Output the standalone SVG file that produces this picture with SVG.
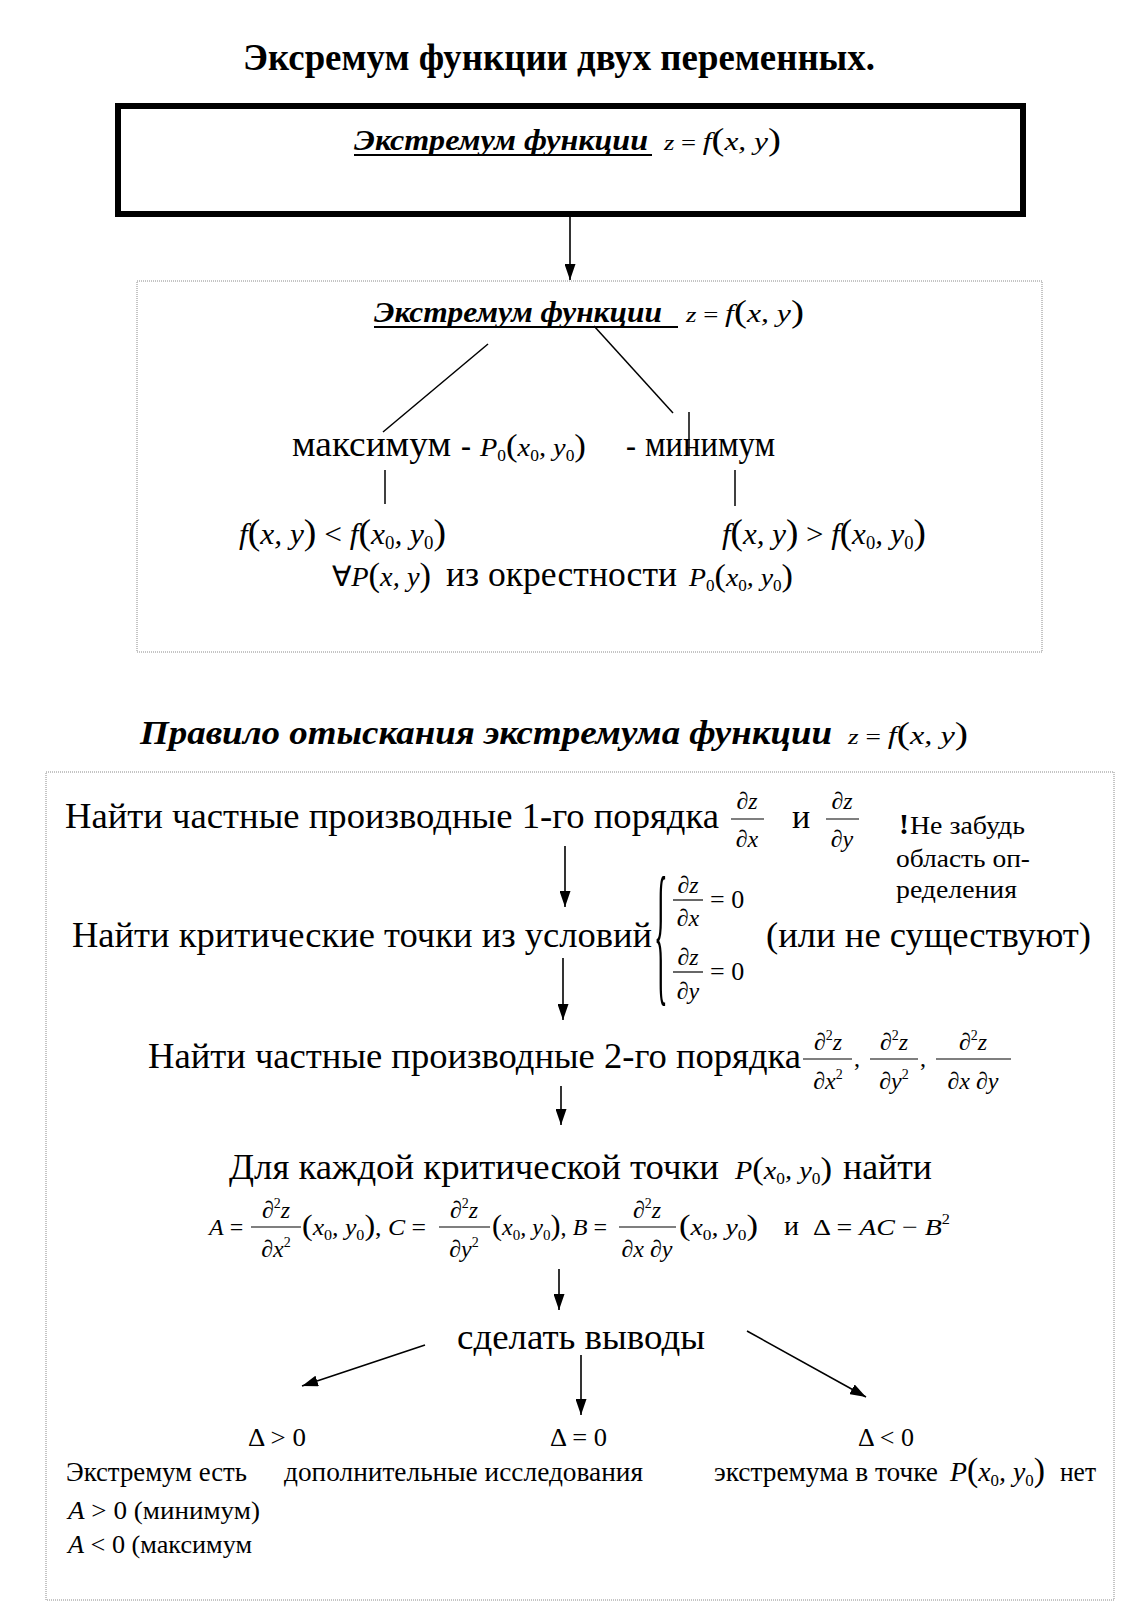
<svg xmlns="http://www.w3.org/2000/svg" width="1146" height="1616" viewBox="0 0 1146 1616">
<style>
.s{font-family:"Liberation Serif","Times New Roman",serif;fill:#000}
.i{font-style:italic}
.b{font-weight:bold}
.u{font-style:normal}
.ln{stroke:#000;stroke-width:1.5;fill:none}
.ar{stroke:#000;stroke-width:1.6;fill:none;marker-end:url(#ah)}
.fb{stroke:#000;stroke-width:1.2}
.dot{fill:none;stroke:#8a8a8a;stroke-width:1;stroke-dasharray:1 1}
</style>
<defs>
<marker id="ah" markerUnits="userSpaceOnUse" markerWidth="16" markerHeight="11" refX="16" refY="5.5" orient="auto"><path d="M0,0 L16,5.5 L0,11 z" fill="#000"/></marker>
</defs>
<rect width="1146" height="1616" fill="#fff"/>

<g id="title"><text class="s b" x="243" y="70" font-size="37" textLength="632" lengthAdjust="spacingAndGlyphs">Эксремум функции двух переменных.</text></g>

<g id="box-top">
<rect x="118" y="106" width="905" height="108" fill="none" stroke="#000" stroke-width="6"/>
<text class="s b i" x="354" y="150" font-size="30" textLength="294" lengthAdjust="spacingAndGlyphs">Экстремум функции</text>
<line x1="354" y1="155" x2="652" y2="155" stroke="#000" stroke-width="2"/>
<text class="s i" x="664" y="150" font-size="26" textLength="117" lengthAdjust="spacingAndGlyphs"><tspan font-size="22">z</tspan><tspan class="u" font-size="22"> = </tspan>f<tspan class="u" font-size="32">(</tspan>x, y<tspan class="u" font-size="32">)</tspan></text>
</g>

<g id="box-def">
<rect class="dot" x="137" y="281" width="905" height="371"/>
<text class="s b i" x="374" y="322" font-size="30" textLength="288" lengthAdjust="spacingAndGlyphs">Экстремум функции</text>
<line x1="374" y1="327" x2="678" y2="327" stroke="#000" stroke-width="2"/>
<text class="s i" x="686" y="322" font-size="26" textLength="118" lengthAdjust="spacingAndGlyphs"><tspan font-size="22">z</tspan><tspan class="u" font-size="22"> = </tspan>f<tspan class="u" font-size="32">(</tspan>x, y<tspan class="u" font-size="32">)</tspan></text>
</g>

<g id="max-min">
<text class="s" x="292" y="456" font-size="36" textLength="159" lengthAdjust="spacingAndGlyphs">максимум</text>
<text class="s b" x="461" y="456" font-size="30">-</text>
<text class="s i" x="480" y="456" font-size="26" textLength="106" lengthAdjust="spacingAndGlyphs">P<tspan class="u" font-size="16" dy="5">0</tspan><tspan class="u" font-size="32" dy="-5">(</tspan>x<tspan class="u" font-size="16" dy="5">0</tspan><tspan dy="-5">, </tspan>y<tspan class="u" font-size="16" dy="5">0</tspan><tspan class="u" font-size="32" dy="-5">)</tspan></text>
<text class="s b" x="626" y="456" font-size="30">-</text>
<text class="s" x="645" y="456" font-size="36" textLength="130" lengthAdjust="spacingAndGlyphs">минимум</text>
</g>

<g id="cond-max"><text class="s i" x="239" y="544" font-size="30" textLength="207" lengthAdjust="spacingAndGlyphs">f<tspan class="u" font-size="36">(</tspan>x, y<tspan class="u" font-size="36">)</tspan><tspan class="u"> &lt; </tspan>f<tspan class="u" font-size="36">(</tspan>x<tspan class="u" font-size="18" dy="5">0</tspan><tspan dy="-5">, </tspan>y<tspan class="u" font-size="18" dy="5">0</tspan><tspan class="u" font-size="36" dy="-5">)</tspan></text></g>

<g id="cond-min"><text class="s i" x="722" y="544" font-size="30" textLength="204" lengthAdjust="spacingAndGlyphs">f<tspan class="u" font-size="36">(</tspan>x, y<tspan class="u" font-size="36">)</tspan><tspan class="u"> &gt; </tspan>f<tspan class="u" font-size="36">(</tspan>x<tspan class="u" font-size="18" dy="5">0</tspan><tspan dy="-5">, </tspan>y<tspan class="u" font-size="18" dy="5">0</tspan><tspan class="u" font-size="36" dy="-5">)</tspan></text></g>

<g id="neighborhood">
<text class="s i" x="332" y="586" font-size="28" textLength="99" lengthAdjust="spacingAndGlyphs"><tspan class="u">∀</tspan>P<tspan class="u" font-size="34">(</tspan>x, y<tspan class="u" font-size="34">)</tspan></text>
<text class="s" x="446" y="586" font-size="36" textLength="231" lengthAdjust="spacingAndGlyphs">из окрестности</text>
<text class="s i" x="689" y="586" font-size="26" textLength="104" lengthAdjust="spacingAndGlyphs">P<tspan class="u" font-size="16" dy="5">0</tspan><tspan class="u" font-size="32" dy="-5">(</tspan>x<tspan class="u" font-size="16" dy="5">0</tspan><tspan dy="-5">, </tspan>y<tspan class="u" font-size="16" dy="5">0</tspan><tspan class="u" font-size="32" dy="-5">)</tspan></text>
</g>

<g id="heading-rule">
<text class="s b i" x="140" y="744" font-size="34" textLength="692" lengthAdjust="spacingAndGlyphs">Правило отыскания экстремума функции</text>
<text class="s i" x="848" y="744" font-size="26" textLength="120" lengthAdjust="spacingAndGlyphs"><tspan font-size="22">z</tspan><tspan class="u" font-size="22"> = </tspan>f<tspan class="u" font-size="32">(</tspan>x, y<tspan class="u" font-size="32">)</tspan></text>
</g>

<g id="box-rule"><rect class="dot" x="46" y="772" width="1068" height="828"/></g>

<g id="step1">
<text class="s" x="65" y="828" font-size="36" textLength="654" lengthAdjust="spacingAndGlyphs">Найти частные производные 1-го порядка</text>
<text class="s i" x="747" y="809" font-size="24" text-anchor="middle">∂z</text>
<line class="fb" x1="731" y1="819" x2="764" y2="819"/>
<text class="s i" x="747" y="847" font-size="24" text-anchor="middle">∂x</text>
<text class="s" x="792" y="828" font-size="34">и</text>
<text class="s i" x="842" y="809" font-size="24" text-anchor="middle">∂z</text>
<line class="fb" x1="826" y1="819" x2="859" y2="819"/>
<text class="s i" x="842" y="847" font-size="24" text-anchor="middle">∂y</text>
</g>

<g id="note">
<text class="s b" x="899" y="834" font-size="30">!</text>
<text class="s" x="910" y="834" font-size="25" textLength="115" lengthAdjust="spacingAndGlyphs">Не забудь</text>
<text class="s" x="896" y="867" font-size="25" textLength="134" lengthAdjust="spacingAndGlyphs">область оп-</text>
<text class="s" x="896" y="898" font-size="25" textLength="121" lengthAdjust="spacingAndGlyphs">ределения</text>
</g>

<g id="step2">
<text class="s" x="72" y="947" font-size="36" textLength="580" lengthAdjust="spacingAndGlyphs">Найти критические точки из условий</text>
<text class="s" font-size="130" transform="translate(654,985) scale(0.22,1.2)">{</text>
<text class="s i" x="688" y="893" font-size="24" text-anchor="middle">∂z</text>
<line class="fb" x1="673" y1="900" x2="703" y2="900"/>
<text class="s i" x="688" y="926" font-size="24" text-anchor="middle">∂x</text>
<text class="s" x="710" y="908" font-size="26">= 0</text>
<text class="s i" x="688" y="965" font-size="24" text-anchor="middle">∂z</text>
<line class="fb" x1="673" y1="972" x2="703" y2="972"/>
<text class="s i" x="688" y="999" font-size="24" text-anchor="middle">∂y</text>
<text class="s" x="710" y="980" font-size="26">= 0</text>
<text class="s" x="766" y="947" font-size="36" textLength="325" lengthAdjust="spacingAndGlyphs">(или не существуют)</text>
</g>

<g id="step3">
<text class="s" x="148" y="1068" font-size="36" textLength="653" lengthAdjust="spacingAndGlyphs">Найти частные производные 2-го порядка</text>
<text class="s i" x="828" y="1050" font-size="24" text-anchor="middle">∂<tspan class="u" font-size="14" dy="-10">2</tspan><tspan dy="10">z</tspan></text>
<line class="fb" x1="803" y1="1059" x2="852" y2="1059"/>
<text class="s i" x="828" y="1089" font-size="24" text-anchor="middle">∂x<tspan class="u" font-size="14" dy="-10">2</tspan></text>
<text class="s" x="854" y="1066" font-size="24">,</text>
<text class="s i" x="894" y="1050" font-size="24" text-anchor="middle">∂<tspan class="u" font-size="14" dy="-10">2</tspan><tspan dy="10">z</tspan></text>
<line class="fb" x1="870" y1="1059" x2="918" y2="1059"/>
<text class="s i" x="894" y="1089" font-size="24" text-anchor="middle">∂y<tspan class="u" font-size="14" dy="-10">2</tspan></text>
<text class="s" x="920" y="1066" font-size="24">,</text>
<text class="s i" x="973" y="1050" font-size="24" text-anchor="middle">∂<tspan class="u" font-size="14" dy="-10">2</tspan><tspan dy="10">z</tspan></text>
<line class="fb" x1="936" y1="1059" x2="1011" y2="1059"/>
<text class="s i" x="973" y="1089" font-size="24" text-anchor="middle">∂x ∂y</text>
</g>

<g id="step4">
<text class="s" x="229" y="1179" font-size="36" textLength="490" lengthAdjust="spacingAndGlyphs">Для каждой критической точки</text>
<text class="s i" x="735" y="1179" font-size="26" textLength="97" lengthAdjust="spacingAndGlyphs">P<tspan class="u" font-size="32">(</tspan>x<tspan class="u" font-size="16" dy="5">0</tspan><tspan dy="-5">, </tspan>y<tspan class="u" font-size="16" dy="5">0</tspan><tspan class="u" font-size="32" dy="-5">)</tspan></text>
<text class="s" x="843" y="1179" font-size="36" textLength="89" lengthAdjust="spacingAndGlyphs">найти</text>
</g>

<g id="step5">
<text class="s i" x="209" y="1235" font-size="24">A<tspan class="u"> =</tspan></text>
<text class="s i" x="276" y="1218" font-size="24" text-anchor="middle">∂<tspan class="u" font-size="14" dy="-10">2</tspan><tspan dy="10">z</tspan></text>
<line class="fb" x1="251" y1="1227" x2="301" y2="1227"/>
<text class="s i" x="276" y="1257" font-size="24" text-anchor="middle">∂x<tspan class="u" font-size="14" dy="-10">2</tspan></text>
<text class="s i" x="302" y="1235" font-size="24" textLength="124" lengthAdjust="spacingAndGlyphs"><tspan class="u" font-size="30">(</tspan>x<tspan class="u" font-size="15" dy="5">0</tspan><tspan dy="-5">, </tspan>y<tspan class="u" font-size="15" dy="5">0</tspan><tspan class="u" font-size="30" dy="-5">)</tspan><tspan class="u">, </tspan>C<tspan class="u"> =</tspan></text>
<text class="s i" x="464" y="1218" font-size="24" text-anchor="middle">∂<tspan class="u" font-size="14" dy="-10">2</tspan><tspan dy="10">z</tspan></text>
<line class="fb" x1="439" y1="1227" x2="490" y2="1227"/>
<text class="s i" x="464" y="1257" font-size="24" text-anchor="middle">∂y<tspan class="u" font-size="14" dy="-10">2</tspan></text>
<text class="s i" x="492" y="1235" font-size="24" textLength="115" lengthAdjust="spacingAndGlyphs"><tspan class="u" font-size="30">(</tspan>x<tspan class="u" font-size="15" dy="5">0</tspan><tspan dy="-5">, </tspan>y<tspan class="u" font-size="15" dy="5">0</tspan><tspan class="u" font-size="30" dy="-5">)</tspan><tspan class="u">, </tspan>B<tspan class="u"> =</tspan></text>
<text class="s i" x="647" y="1218" font-size="24" text-anchor="middle">∂<tspan class="u" font-size="14" dy="-10">2</tspan><tspan dy="10">z</tspan></text>
<line class="fb" x1="619" y1="1227" x2="676" y2="1227"/>
<text class="s i" x="647" y="1257" font-size="24" text-anchor="middle">∂x ∂y</text>
<text class="s i" x="679" y="1235" font-size="24" textLength="79" lengthAdjust="spacingAndGlyphs"><tspan class="u" font-size="30">(</tspan>x<tspan class="u" font-size="15" dy="5">0</tspan><tspan dy="-5">, </tspan>y<tspan class="u" font-size="15" dy="5">0</tspan><tspan class="u" font-size="30" dy="-5">)</tspan></text>
<text class="s" x="784" y="1235" font-size="28">и</text>
<text class="s i" x="813" y="1235" font-size="24" textLength="137" lengthAdjust="spacingAndGlyphs"><tspan class="u">Δ = </tspan>AC<tspan class="u"> − </tspan>B<tspan class="u" font-size="14" dy="-11">2</tspan></text>
</g>

<g id="conclude"><text class="s" x="457" y="1349" font-size="36" textLength="248" lengthAdjust="spacingAndGlyphs">сделать выводы</text></g>

<g id="case-pos">
<text class="s" x="248" y="1446" font-size="26" textLength="58" lengthAdjust="spacingAndGlyphs">Δ &gt; 0</text>
<text class="s" x="66" y="1481" font-size="27" textLength="181" lengthAdjust="spacingAndGlyphs">Экстремум есть</text>
<text class="s" x="68" y="1519" font-size="26" textLength="192" lengthAdjust="spacingAndGlyphs"><tspan class="i">A</tspan> &gt; 0 (минимум)</text>
<text class="s" x="68" y="1553" font-size="26" textLength="184" lengthAdjust="spacingAndGlyphs"><tspan class="i">A</tspan> &lt; 0 (максимум</text>
</g>

<g id="case-zero">
<text class="s" x="550" y="1446" font-size="26" textLength="57" lengthAdjust="spacingAndGlyphs">Δ = 0</text>
<text class="s" x="284" y="1481" font-size="27" textLength="359" lengthAdjust="spacingAndGlyphs">дополнительные исследования</text>
</g>

<g id="case-neg">
<text class="s" x="858" y="1446" font-size="26" textLength="56" lengthAdjust="spacingAndGlyphs">Δ &lt; 0</text>
<text class="s" x="714" y="1481" font-size="27" textLength="224" lengthAdjust="spacingAndGlyphs">экстремума в точке</text>
<text class="s i" x="950" y="1481" font-size="28" textLength="95" lengthAdjust="spacingAndGlyphs">P<tspan class="u" font-size="34">(</tspan>x<tspan class="u" font-size="17" dy="5">0</tspan><tspan dy="-5">, </tspan>y<tspan class="u" font-size="17" dy="5">0</tspan><tspan class="u" font-size="34" dy="-5">)</tspan></text>
<text class="s" x="1060" y="1481" font-size="27" textLength="36" lengthAdjust="spacingAndGlyphs">нет</text>
</g>

<g id="connectors">
<line class="ar" x1="570" y1="217" x2="570" y2="280"/>
<line class="ln" x1="488" y1="344" x2="383" y2="432"/>
<line class="ln" x1="594" y1="326" x2="673" y2="413"/>
<line class="ln" x1="689" y1="412" x2="689" y2="455"/>
<line class="ln" x1="385" y1="470" x2="385" y2="504"/>
<line class="ln" x1="735" y1="470" x2="735" y2="506"/>
<line class="ar" x1="565" y1="846" x2="565" y2="907"/>
<line class="ar" x1="563" y1="958" x2="563" y2="1020"/>
<line class="ar" x1="561" y1="1086" x2="561" y2="1125"/>
<line class="ar" x1="559" y1="1269" x2="559" y2="1310"/>
<line class="ar" x1="425" y1="1345" x2="302" y2="1386"/>
<line class="ar" x1="581" y1="1355" x2="581" y2="1415"/>
<line class="ar" x1="747" y1="1331" x2="866" y2="1397"/>
</g>
</svg>
